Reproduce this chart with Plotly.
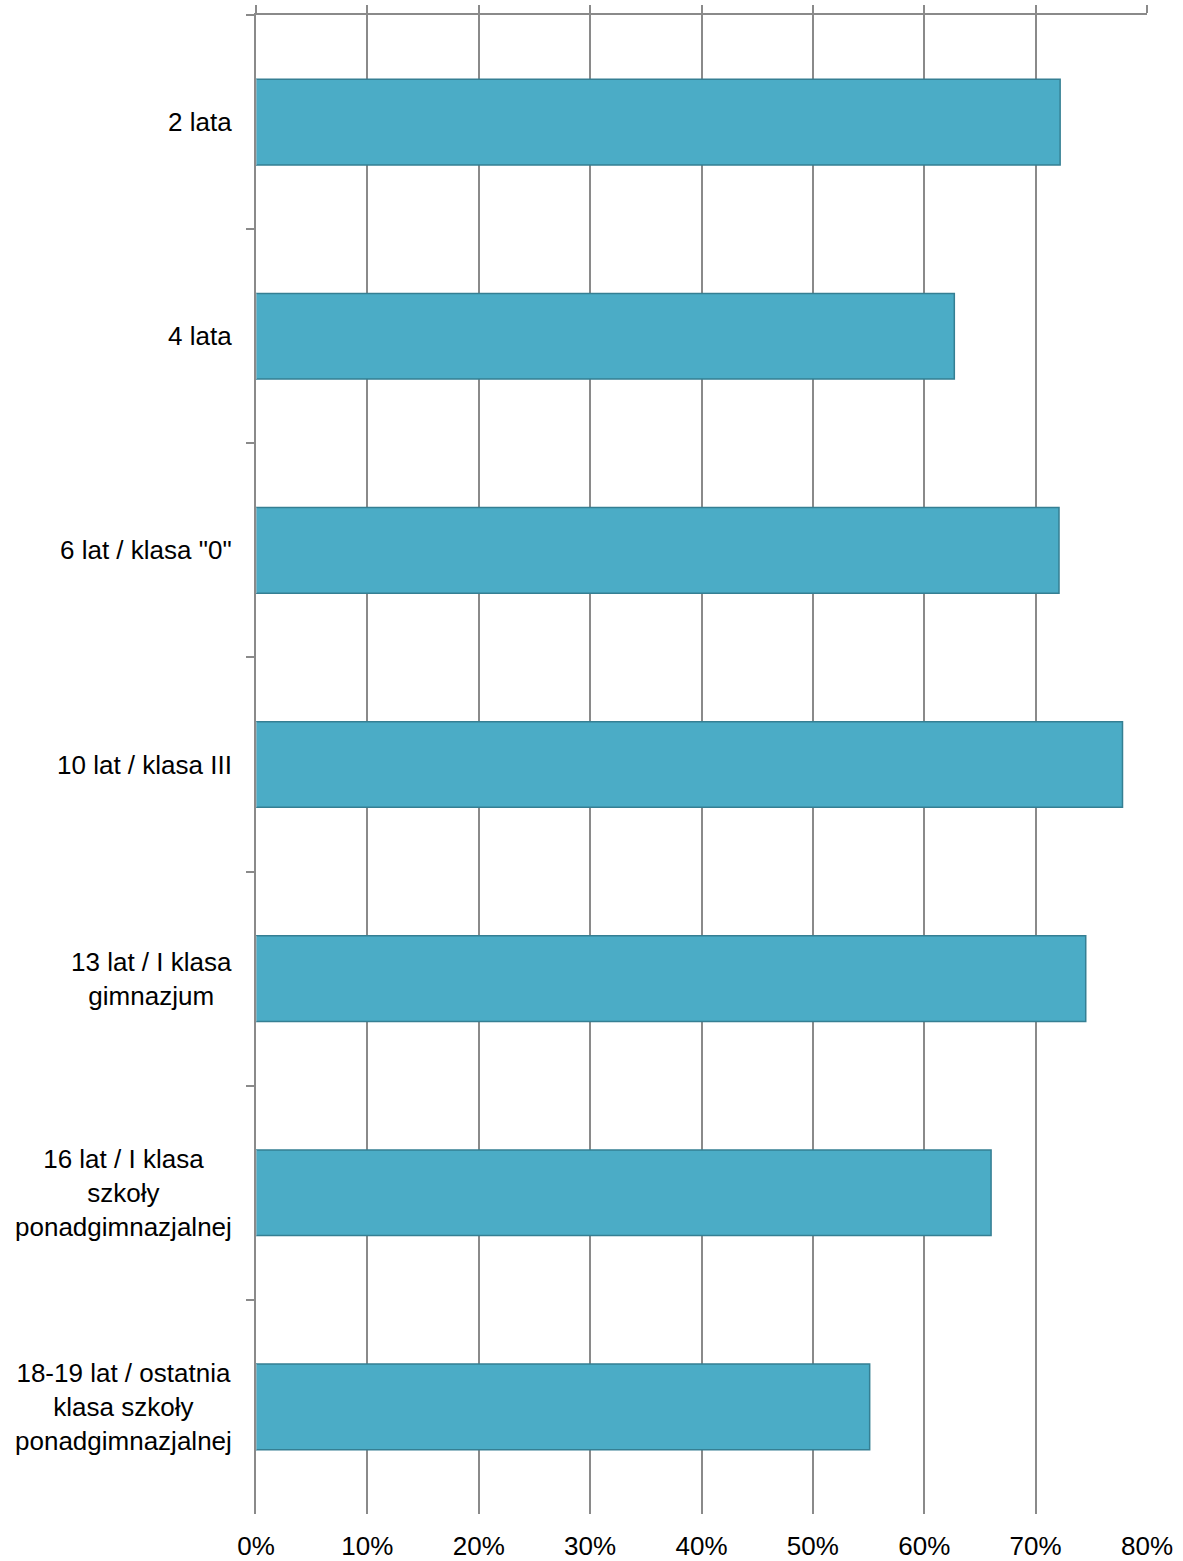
import plotly.graph_objects as go

categories = [
    "2 lata",
    "4 lata",
    '6 lat / klasa "0"',
    "10 lat / klasa III",
    "13 lat / I klasa<br>gimnazjum",
    "16 lat / I klasa<br>szkoły<br>ponadgimnazjalnej",
    "18-19 lat / ostatnia<br>klasa szkoły<br>ponadgimnazjalnej",
]
values = [72.2, 62.7, 72.1, 77.8, 74.5, 66.0, 55.1]
x_ticks = [0, 10, 20, 30, 40, 50, 60, 70, 80]
x_tick_labels = [f"{v}%" for v in x_ticks]

FONT = "Liberation Sans, Arial, sans-serif"
GRID = "#8a8a8a"

fig = go.Figure()
fig.add_trace(go.Bar(
    y=categories, x=values, orientation="h",
    marker=dict(color="#4BACC6", line=dict(color="#357F93", width=1.5)),
    xaxis="x", yaxis="y", showlegend=False, hoverinfo="x+y",
))
# invisible trace on top axis to activate it
fig.add_trace(go.Bar(
    y=categories, x=[0] * len(categories), orientation="h",
    xaxis="x2", yaxis="y", showlegend=False, hoverinfo="skip",
    marker=dict(color="rgba(0,0,0,0)"),
))

annotations = []
for c in categories:
    annotations.append(dict(
        x=0, xref="paper", y=c, yref="y", xanchor="right", yanchor="middle",
        xshift=-22, text=c, showarrow=False, align="center",
        font=dict(family=FONT, size=26, color="#000000"),
    ))

fig.update_layout(
    width=1183, height=1561,
    margin=dict(l=256, r=36, t=15, b=47),
    paper_bgcolor="white", plot_bgcolor="white",
    bargap=0.6, barmode="overlay",
    font=dict(family=FONT, size=26, color="#000000"),
    annotations=annotations,
    xaxis=dict(
        range=[0, 80], tickvals=x_ticks, ticktext=x_tick_labels,
        showgrid=True, gridcolor=GRID, gridwidth=1.5,
        showline=False, zeroline=False, ticks="",
        side="bottom", tickfont=dict(family=FONT, size=26, color="#000000"),
        ticklabelstandoff=14, automargin=False,
    ),
    xaxis2=dict(
        range=[0, 80], tickvals=x_ticks, overlaying="x", side="top",
        showgrid=False, showline=True, linecolor=GRID, linewidth=1.5,
        ticks="outside", ticklen=8, tickcolor=GRID, tickwidth=1.5,
        showticklabels=False, zeroline=False, automargin=False,
    ),
    yaxis=dict(
        categoryorder="array", categoryarray=categories,
        autorange="reversed", showticklabels=False,
        showline=True, linecolor=GRID, linewidth=1.5,
        ticks="outside", ticklen=8, tickcolor=GRID, tickwidth=1.5,
        tickson="boundaries", showgrid=False, zeroline=False,
        automargin=False,
    ),
)

fig.write_html(
    "out.html",
    config={"displayModeBar": False},
    post_script="document.body.style.margin='0';document.body.style.overflow='hidden';",
)
